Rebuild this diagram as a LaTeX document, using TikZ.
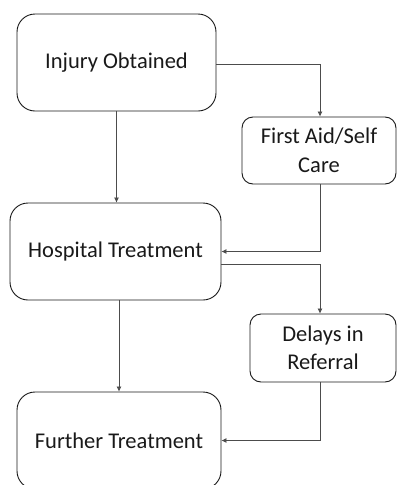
\documentclass[tikz,border=0pt]{standalone}
\usepackage{fontspec}
\setmainfont{Carlito}
\usetikzlibrary{arrows.meta}

\begin{document}
\begin{tikzpicture}[x=1pt,y=-1pt,
        stepbox/.style={draw=black!90,line width=0.9pt,rounded corners=18pt,align=center,
            inner sep=0pt,font=\fontsize{22.5}{28.5}\selectfont,text=black!90},
        smallbox/.style={stepbox,rounded corners=11pt},
        link/.style={draw=black!70,line width=0.7pt,-{Latex[length=5pt,width=5pt]}}]
        % 页面边界
        \useasboundingbox (0,0) rectangle (397,485);

        % 各个方框
        \node[stepbox,minimum width=199pt,minimum height=97pt] (injury) at (116.5,62.5) {Injury Obtained};
        \node[smallbox,minimum width=154pt,minimum height=67pt] (firstaid) at (319,150.5) {First Aid/Self\\Care};
        \node[stepbox,minimum width=211pt,minimum height=97pt] (hospital) at (115.5,251.5) {Hospital Treatment};
        \node[smallbox,minimum width=146pt,minimum height=68pt] (delays) at (323,348) {Delays in\\Referral};
        \node[stepbox,minimum width=204pt,minimum height=97pt] (further) at (119,440.5) {Further Treatment};

        % 箭头
        \draw[link] ([yshift=-1.5pt]injury.east) -| ([xshift=1pt]firstaid.north);
        \draw[link] (injury.south) -- (injury.south |- hospital.north);
        \draw[link] ([xshift=1pt]firstaid.south) |- (hospital.east);
        \draw[link] ([yshift=-12.5pt]hospital.east) -| ([xshift=-3pt]delays.north);
        \draw[link] (further.north |- hospital.south) -- (further.north);
        \draw[link] ([xshift=-3pt]delays.south) |- (further.east);
    \end{tikzpicture}
\end{document}
